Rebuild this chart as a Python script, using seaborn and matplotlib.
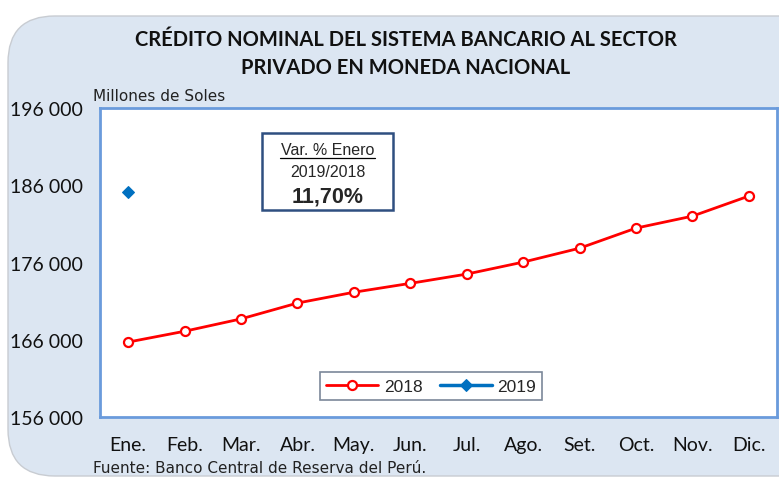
import numpy as np
import pandas as pd
import seaborn as sns
import matplotlib.pyplot as plt
from matplotlib.patches import FancyBboxPatch, Rectangle

# Data (millones de soles)
months = ["Ene.", "Feb.", "Mar.", "Abr.", "May.", "Jun.",
          "Jul.", "Ago.", "Set.", "Oct.", "Nov.", "Dic."]
credit_2018 = [165700, 167100, 168700, 170750, 172150, 173300,
               174500, 176050, 177850, 180450, 182000, 184600]
credit_2019 = [185100]
yticks = [156000, 166000, 176000, 186000, 196000]

sns.set_theme(style="white")
plt.rcParams["font.family"] = ["Lato", "DejaVu Sans"]

BG = "#dce6f2"
SPINE = "#6a9bdc"

fig = plt.figure(figsize=(7.79, 4.81), dpi=100)
fig.patch.set_facecolor("white")

# Rounded panel behind everything
panel = FancyBboxPatch((8 / 779, 4 / 481), 1.05, 460 / 481,
                       boxstyle="round,pad=0,rounding_size=0.06",
                       transform=fig.transFigure, facecolor=BG,
                       edgecolor="#c8ccd2", linewidth=1.0, zorder=-10,
                       mutation_aspect=779 / 481)
fig.patches.append(panel)

ax = fig.add_axes([100 / 779, 63 / 481, 677 / 779, 309 / 481])
ax.set_facecolor("white")

x = np.arange(len(months))
df18 = pd.DataFrame({"x": x, "y": credit_2018})
df19 = pd.DataFrame({"x": x[:len(credit_2019)], "y": credit_2019})

sns.lineplot(data=df18, x="x", y="y", ax=ax, color="#ff0000", linewidth=2.0,
             marker="o", markersize=6.5, markerfacecolor="white",
             markeredgecolor="#ff0000", markeredgewidth=1.6, label="2018")
sns.lineplot(data=df19, x="x", y="y", ax=ax, color="#0070c0", linewidth=2.5,
             marker="D", markersize=6.5, markeredgecolor="#0070c0",
             label="2019")

ax.set_xlim(-0.5, 11.5)
ax.set_ylim(156000, 196000)
ax.set_yticks(yticks)
ax.set_yticklabels([f"{v:,}".replace(",", " ") for v in yticks], fontsize=14)
ax.set_xticks(x)
ax.set_xticklabels(months, fontsize=14)
ax.set_xticks(np.arange(-0.5, 12, 1), minor=True)
ax.tick_params(axis="x", which="major", length=0, pad=14, colors="#111111")
ax.tick_params(axis="x", which="minor", length=6, width=1.2, color=SPINE,
               direction="out")
ax.tick_params(axis="y", length=7, width=1.2, direction="out",
               pad=5, colors="#111111")
ax.tick_params(axis="y", color=SPINE)
ax.set_xlabel("")
ax.set_ylabel("")
for s in ax.spines.values():
    s.set_color(SPINE)
    s.set_linewidth(2.0)

# Annotation box
ax.add_patch(Rectangle((0.239, 0.670), 0.194, 0.249, transform=ax.transAxes,
                       facecolor="white", edgecolor="#2f4f80", linewidth=1.8,
                       zorder=5))
bx = 0.336
ax.text(bx, 0.867, "Var. % Enero", transform=ax.transAxes, ha="center",
        va="center", fontsize=11.5, family=["Liberation Sans"], zorder=6)
ax.plot([bx - 0.0705, bx + 0.0705], [0.837, 0.837], transform=ax.transAxes,
        color="black", linewidth=0.9, zorder=6)
ax.text(bx, 0.795, "2019/2018", transform=ax.transAxes, ha="center",
        va="center", fontsize=11.5, family=["Liberation Sans"], zorder=6)
ax.text(bx, 0.715, "11,70%", transform=ax.transAxes, ha="center",
        va="center", fontsize=15.5, fontweight="bold",
        family=["Liberation Sans"], zorder=6)

leg = ax.legend(loc="center", bbox_to_anchor=(0.489, 0.10), ncol=2,
                frameon=True, fancybox=False, edgecolor="#5a6a80",
                prop={"family": "Liberation Sans", "size": 12.5},
                handlelength=3.0, columnspacing=1.0, handletextpad=0.3,
                borderpad=0.35)
leg.get_frame().set_linewidth(1.2)

fig.text(0.521, 1 - 40 / 481, "CRÉDITO NOMINAL DEL SISTEMA BANCARIO AL SECTOR",
         ha="center", va="center", fontsize=14.5, fontweight="bold",
         color="#111111")
fig.text(0.521, 1 - 68 / 481, "PRIVADO EN MONEDA NACIONAL",
         ha="center", va="center", fontsize=14.5, fontweight="bold",
         color="#111111")
fig.text(93 / 779, 1 - 97 / 481, "Millones de Soles", ha="left",
         va="center", fontsize=11, color="#222222",
         family=["DejaVu Sans"])
fig.text(93 / 779, 1 - 469 / 481, "Fuente: Banco Central de Reserva del Perú.",
         ha="left", va="center", fontsize=11, color="#222222",
         family=["DejaVu Sans"])

fig.savefig("out.png", dpi=100)
